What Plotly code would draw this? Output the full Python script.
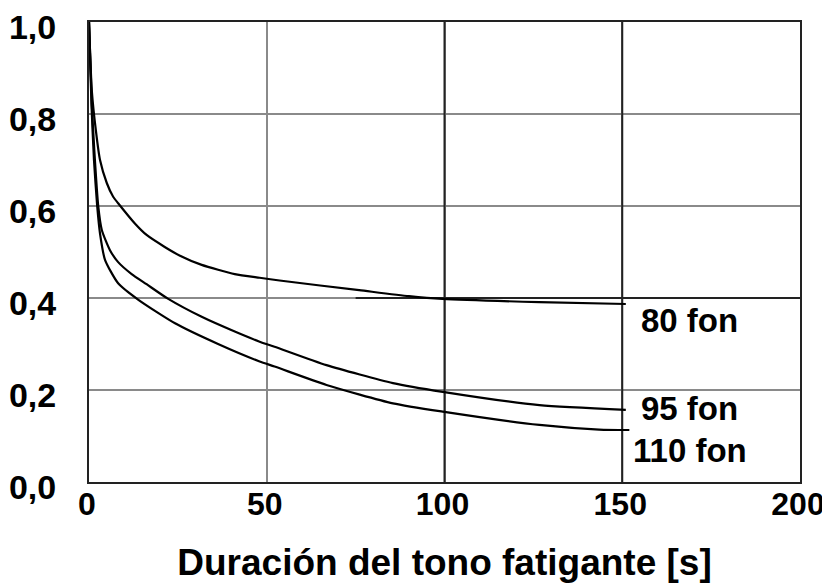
import plotly.graph_objects as go

# Data
x_80 = [0, 0.8, 2.0, 3.1, 5.0, 6.8, 8.2, 12.9, 16.2, 21.3, 25.6, 31.7, 41, 48, 53.6, 76, 90, 99.4, 126.7, 151]
y_80 = [1.0, 0.85, 0.76, 0.70, 0.65, 0.62, 0.606, 0.562, 0.537, 0.511, 0.492, 0.472, 0.452, 0.444, 0.438, 0.417, 0.404, 0.398, 0.391, 0.387]

x_95 = [0, 0.8, 1.5, 2.6, 3.6, 5.9, 8.2, 12, 16.2, 22.3, 31.7, 41, 48, 52.2, 66.8, 85.5, 99.5, 126.7, 151]
y_95 = [1.0, 0.82, 0.72, 0.60, 0.548, 0.504, 0.478, 0.452, 0.430, 0.398, 0.359, 0.327, 0.305, 0.294, 0.254, 0.215, 0.196, 0.167, 0.157]

x_110 = [0, 0.7, 1.4, 2.3, 3.1, 4.5, 8.2, 13.9, 24.2, 36.3, 48, 52.2, 66.8, 85.5, 99.5, 126.7, 143.5, 152]
y_110 = [1.0, 0.82, 0.70, 0.60, 0.54, 0.483, 0.432, 0.396, 0.345, 0.30, 0.262, 0.251, 0.211, 0.171, 0.153, 0.124, 0.114, 0.113]

series_names = ["80 fon", "95 fon", "110 fon"]
label_x = [169, 169, 169]
label_y = [0.352, 0.16, 0.068]

x_ticks = [0, 50, 100, 150, 200]
x_tick_text = ["0", "50", "100", "150", "200"]
y_ticks = [0.0, 0.2, 0.4, 0.6, 0.8, 1.0]
y_tick_text = ["0,0", "0,2", "0,4", "0,6", "0,8", "1,0"]
x_title = "Duración del tono fatigante [s]"

FONT = "Liberation Sans, Arial, sans-serif"

fig = go.Figure()
for xs, ys, name in zip([x_80, x_95, x_110], [y_80, y_95, y_110], series_names):
    fig.add_trace(go.Scatter(
        x=xs, y=ys, mode="lines", name=name,
        line=dict(color="black", width=2.2, shape="spline", smoothing=0.6),
        showlegend=False, hoverinfo="x+y+name",
    ))

# darker grid lines as seen in the reference (above the grid, below the curves)
fig.add_shape(type="line", xref="x", yref="y", x0=100, x1=100, y0=0, y1=1,
              line=dict(color="#222222", width=2), layer="between")
fig.add_shape(type="line", xref="x", yref="y", x0=150, x1=150, y0=0, y1=1,
              line=dict(color="#222222", width=2), layer="between")
fig.add_shape(type="line", xref="x", yref="y", x0=75, x1=200, y0=0.4, y1=0.4,
              line=dict(color="#222222", width=2), layer="between")

for name, lx, ly in zip(series_names, label_x, label_y):
    fig.add_annotation(x=lx, y=ly, xref="x", yref="y", text=name, showarrow=False,
                       font=dict(family=FONT, size=33, color="black", weight="bold"),
                       xanchor="center", yanchor="middle")

# the page adds an 8px body margin, so the figure is sized to fit the window
fig.update_layout(
    width=822, height=579,
    margin=dict(l=81, r=30, t=14, b=105),
    paper_bgcolor="white", plot_bgcolor="white",
    font=dict(family=FONT, size=33, color="black", weight="bold"),
)
fig.update_xaxes(
    range=[0, 200], tickvals=x_ticks, ticktext=x_tick_text,
    showgrid=True, gridcolor="#8a8a8a", gridwidth=2,
    showline=True, linecolor="#222222", linewidth=2, mirror=True,
    ticks="", ticklabelstandoff=-7, ticklabelshift=-2, zeroline=False, automargin=False,
    ticklabeloverflow="allow",
    title=dict(text=x_title, standoff=28,
               font=dict(family=FONT, size=37, color="black", weight="bold")),
    tickfont=dict(family=FONT, size=32, color="black", weight="bold"),
)
fig.update_yaxes(
    range=[0, 1.0], tickvals=y_ticks, ticktext=y_tick_text,
    showgrid=True, gridcolor="#8a8a8a", gridwidth=2,
    showline=True, linecolor="#222222", linewidth=2, mirror=True,
    ticks="", ticklabelstandoff=24, ticklabelshift=5, zeroline=False, automargin=False,
    ticklabeloverflow="allow",
    tickfont=dict(family=FONT, size=34, color="black", weight="bold"),
)

fig.write_html("out.html")
